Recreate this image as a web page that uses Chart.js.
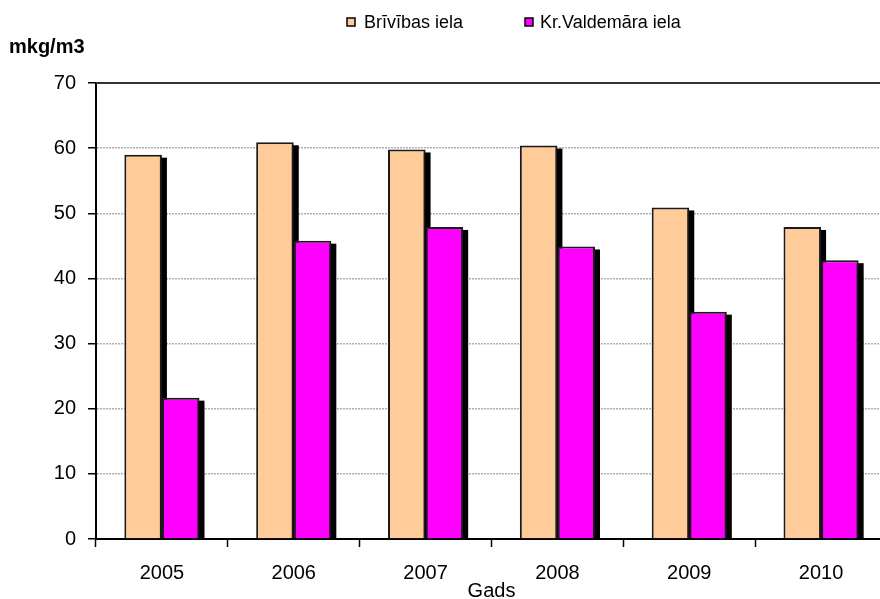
<!DOCTYPE html>
<html>
<head>
<meta charset="utf-8">
<script src="https://cdn.jsdelivr.net/npm/chart.js@4.4.1/dist/chart.umd.min.js"></script>
<style>
  html, body { margin: 0; padding: 0; background: #fff; overflow: hidden; }
  #wrap { width: 887px; height: 599px; position: relative; }
</style>
</head>
<body>
<div id="wrap"><canvas id="myChart"></canvas></div>
<script>
var years = ['2005', '2006', '2007', '2008', '2009', '2010'];
var brivibas = [59, 60.9, 59.8, 60.4, 50.9, 47.9];
var valdemara = [21.7, 45.8, 47.9, 44.9, 34.9, 42.8];
var seriesNames = ['Brīvības iela', 'Kr.Valdemāra iela'];
var yTicks = [0, 10, 20, 30, 40, 50, 60, 70];
var yTitle = 'mkg/m3';
var xTitle = 'Gads';

var fontName = '"Liberation Sans", Arial, sans-serif';

// black drop shadow behind every bar (bar elements clip their own drawing,
// so the shadow is painted from the element geometry before the bars)
var shadowPlugin = {
  id: 'barShadow',
  beforeDatasetsDraw: function(chart) {
    var ctx = chart.ctx;
    var area = chart.chartArea;
    ctx.save();
    ctx.beginPath();
    ctx.rect(area.left, area.top, area.right - area.left, area.bottom - area.top);
    ctx.clip();
    ctx.fillStyle = '#000';
    chart.data.datasets.forEach(function(ds, i) {
      var meta = chart.getDatasetMeta(i);
      meta.data.forEach(function(bar) {
        var p = bar.getProps(['x', 'y', 'base', 'width'], true);
        ctx.fillRect(p.x - p.width / 2 + 5, p.y + 3, p.width, p.base - p.y);
      });
    });
    ctx.restore();
  }
};

// top frame line, axis titles and the legend
var extrasPlugin = {
  id: 'extras',
  afterDraw: function(chart) {
    var ctx = chart.ctx;
    var area = chart.chartArea;
    ctx.save();
    ctx.strokeStyle = '#333';
    ctx.lineWidth = 2;
    ctx.beginPath();
    ctx.moveTo(area.left, area.top);
    ctx.lineTo(area.right, area.top);
    ctx.stroke();

    ctx.fillStyle = '#000';
    ctx.textBaseline = 'alphabetic';
    ctx.textAlign = 'left';
    ctx.font = 'bold 20px ' + fontName;
    ctx.fillText(yTitle, 9, 53);

    ctx.textAlign = 'center';
    ctx.font = '20px ' + fontName;
    ctx.fillText(xTitle, (area.left + area.right) / 2, 597);

    var boxX = [347, 525];
    var textX = [364, 540];
    ctx.font = '18px ' + fontName;
    ctx.textAlign = 'left';
    ctx.textBaseline = 'middle';
    chart.data.datasets.forEach(function(ds, i) {
      ctx.fillStyle = ds.backgroundColor;
      ctx.fillRect(boxX[i], 18, 8, 8);
      ctx.strokeStyle = '#000';
      ctx.lineWidth = 1.5;
      ctx.strokeRect(boxX[i], 18, 8, 8);
      ctx.fillStyle = '#000';
      ctx.fillText(ds.label, textX[i], 23);
    });
    ctx.restore();
  }
};

var canvas = document.getElementById('myChart');
var ctx = canvas.getContext('2d');
var config = {
  type: 'bar',
  data: {
    labels: years,
    datasets: [{
      label: seriesNames[0],
      data: brivibas,
      backgroundColor: '#FFCC99',
      borderColor: '#1a1a1a',
      borderWidth: 2
    }, {
      label: seriesNames[1],
      data: valdemara,
      backgroundColor: '#FF00FF',
      borderColor: '#1a1a1a',
      borderWidth: 2
    }]
  },
  options: {
    responsive: true,
    maintainAspectRatio: false,
    animation: false,
    datasets: {
      bar: { categoryPercentage: 0.57, barPercentage: 1 }
    },
    layout: { padding: { top: 83, left: 0, right: 0, bottom: 0 } },
    plugins: {
      legend: { display: false },
      tooltip: { enabled: false }
    },
    scales: {
      x: {
        afterFit: function(scale) { scale.height = 60; },
        grid: {
          offset: true,
          drawOnChartArea: false,
          tickLength: 8,
          tickColor: '#000',
          tickWidth: 1.5
        },
        border: { color: '#000', width: 2 },
        ticks: {
          color: '#000',
          padding: 14,
          font: { family: fontName, size: 20 }
        }
      },
      y: {
        min: 0,
        max: 70,
        afterFit: function(scale) { scale.width = 96; },
        afterBuildTicks: function(scale) {
          scale.ticks = yTicks.map(function(v) { return { value: v }; });
        },
        grid: {
          color: function(c) {
            return (c.tick && c.tick.value === 70) ? 'rgba(0,0,0,0)' : '#b0b0b0';
          },
          lineWidth: 1.5,
          tickLength: 8,
          tickColor: '#000',
          tickWidth: 1.5
        },
        border: { color: '#000', width: 2, dash: [2, 1] },
        ticks: {
          color: '#000',
          padding: 12,
          font: { family: fontName, size: 20 }
        }
      }
    }
  },
  plugins: [shadowPlugin, extrasPlugin]
};

var chart = new Chart(ctx, config);
</script>
</body>
</html>
